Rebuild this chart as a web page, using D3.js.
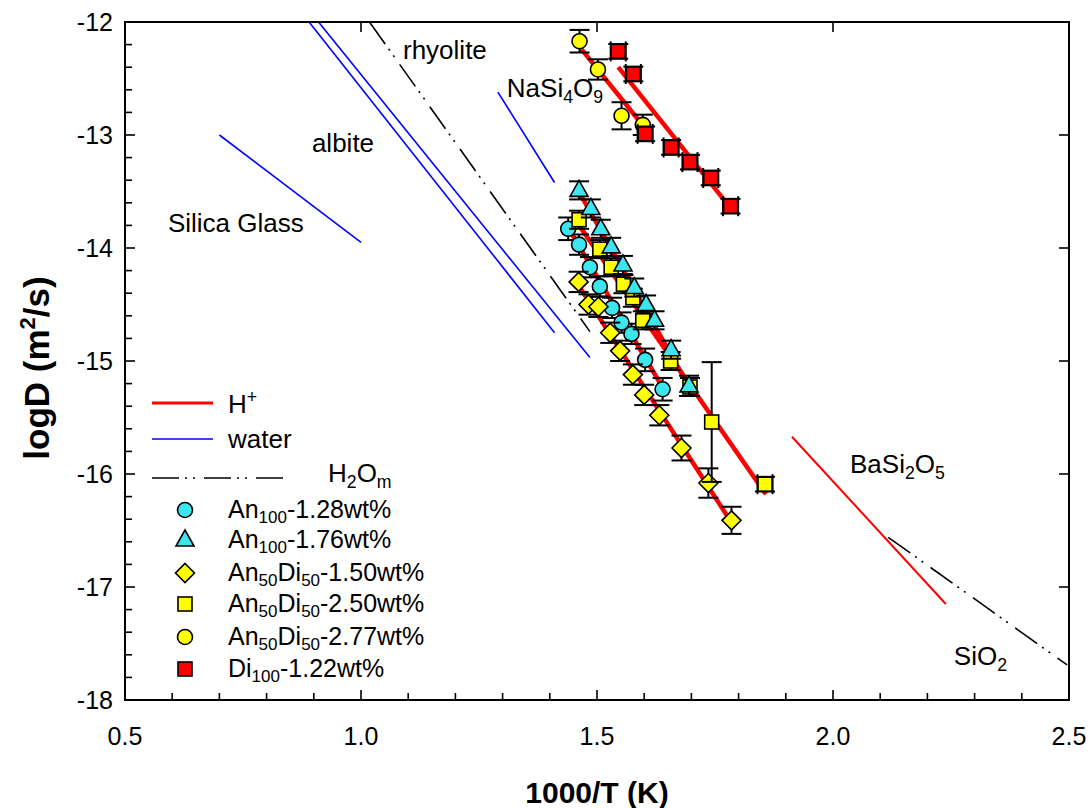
<!DOCTYPE html>
<html>
<head>
<meta charset="utf-8">
<script src="https://cdn.jsdelivr.net/npm/d3@7"></script>
<style>
body { margin: 0; background: #fff; }
svg { display: block; }
</style>
</head>
<body>
<div id="chart"></div>
<script>
// tick values
const xTicks = [0.5, 1.0, 1.5, 2.0, 2.5];
const yTicks = [-12, -13, -14, -15, -16, -17, -18];

// An100-1.28wt%  (cyan circles)
const an100a_x = [1.439, 1.462, 1.485, 1.506, 1.532, 1.552, 1.573, 1.602, 1.639];
const an100a_y = [-13.83, -13.97, -14.17, -14.34, -14.53, -14.66, -14.76, -14.99, -15.25];
const an100a_e = [0.10, 0.09, 0.09, 0.09, 0.09, 0.09, 0.09, 0.10, 0.10];

// An100-1.76wt%  (cyan triangles)
const an100b_x = [1.462, 1.487, 1.508, 1.530, 1.555, 1.579, 1.604, 1.622, 1.657, 1.695];
const an100b_y = [-13.49, -13.65, -13.83, -13.99, -14.15, -14.35, -14.50, -14.64, -14.90, -15.22];
const an100b_e = [0.08, 0.08, 0.08, 0.08, 0.08, 0.08, 0.08, 0.08, 0.08, 0.09];

// An50Di50-1.50wt%  (yellow diamonds)
const an50a_x = [1.461, 1.482, 1.503, 1.528, 1.549, 1.576, 1.600, 1.632, 1.679, 1.736, 1.785];
const an50a_y = [-14.30, -14.50, -14.52, -14.75, -14.91, -15.12, -15.30, -15.48, -15.77, -16.08, -16.41];
const an50a_e = [0.09, 0.09, 0.09, 0.09, 0.09, 0.09, 0.09, 0.09, 0.11, 0.13, 0.12];

// An50Di50-2.50wt%  (yellow squares)
const an50b_x = [1.462, 1.506, 1.530, 1.556, 1.576, 1.597, 1.656, 1.697, 1.743, 1.856];
const an50b_y = [-13.75, -14.01, -14.17, -14.32, -14.44, -14.64, -15.00, -15.23, -15.54, -16.09];
const an50b_e = [0.08, 0.08, 0.08, 0.08, 0.08, 0.08, 0.08, 0.08, 0.53, 0.065];
const an50b_ex = [0, 0, 0, 0, 0, 0, 0, 0, 0, 0.016];

// An50Di50-2.77wt%  (yellow circles)
const an50c_x = [1.463, 1.502, 1.552, 1.597];
const an50c_y = [-12.17, -12.42, -12.83, -12.91];
const an50c_e = [0.10, 0.09, 0.12, 0.09];

// Di100-1.22wt%  (red squares)
const di100_x = [1.545, 1.577, 1.602, 1.657, 1.697, 1.741, 1.783];
const di100_y = [-12.26, -12.46, -12.99, -13.11, -13.24, -13.38, -13.63];
const di100_e = [0.065, 0.065, 0.065, 0.065, 0.065, 0.065, 0.065];
const di100_ex = [0.016, 0.016, 0.016, 0.016, 0.016, 0.016, 0.016];

// H+ fits (thick red)
const fitLines = [
  [[1.467, -12.24], [1.602, -12.94]],
  [[1.545, -12.40], [1.778, -13.62]],
  [[1.460, -13.49], [1.705, -15.30]],
  [[1.462, -13.80], [1.858, -16.18]],
  [[1.432, -13.77], [1.644, -15.27]],
  [[1.453, -14.28], [1.788, -16.45]]
];
// literature lines
const basi2o5 = [[1.913, -15.67], [2.239, -17.15]];
const waterLines = [
  [[0.70, -13.00], [1.00, -13.95]],
  [[0.89, -12.00], [1.41, -14.75]],
  [[0.91, -12.00], [1.485, -14.97]],
  [[1.29, -12.62], [1.41, -13.42]]
];
const h2omLines = [
  [[1.018, -12.00], [1.485, -14.74]],
  [[2.117, -16.56], [2.496, -17.69]]
];

// text labels in data coordinates
const labels = [
  { x: 1.089, y: -12.33, parts: ["rhyolite"] },
  { x: 1.309, y: -12.66, parts: ["NaSi", ["4", "sub"], "O", ["9", "sub"]] },
  { x: 0.896, y: -13.15, parts: ["albite"] },
  { x: 0.591, y: -13.86, parts: ["Silica Glass"] },
  { x: 2.036, y: -15.99, parts: ["BaSi", ["2", "sub"], "O", ["5", "sub"]] },
  { x: 2.256, y: -17.69, parts: ["SiO", ["2", "sub"]] }
];

const W = 1091, H = 808;
const margin = { left: 125, right: 22, top: 22, bottom: 108 };
const font = "'Liberation Sans', Arial, Helvetica, sans-serif";
const fs = 26;

const x = d3.scaleLinear().domain([0.5, 2.5]).range([margin.left, W - margin.right]);
const y = d3.scaleLinear().domain([-18, -12]).range([H - margin.bottom, margin.top]);

const svg = d3.select("#chart").append("svg")
  .attr("width", W).attr("height", H)
  .attr("font-family", font);

svg.append("defs").append("clipPath").attr("id", "clip")
  .append("rect")
  .attr("x", margin.left).attr("y", margin.top)
  .attr("width", W - margin.left - margin.right)
  .attr("height", H - margin.top - margin.bottom);

function rich(g, px, py, parts, size, subDy = 6) {
  const t = g.append("text").attr("x", px).attr("y", py).attr("font-size", size);
  let shift = 0;
  parts.forEach(p => {
    const [s, kind] = typeof p === "string" ? [p, ""] : p;
    const target = kind === "sub" ? subDy : kind === "sup" ? -10 : 0;
    t.append("tspan")
      .attr("dy", target - shift)
      .attr("font-size", kind ? size * 0.68 : size)
      .text(s);
    shift = target;
  });
  return t;
}

const line = d3.line().x(d => x(d[0])).y(d => y(d[1]));
const plot = svg.append("g").attr("clip-path", "url(#clip)");
const dashPat = "27,6,2,6,2,9";

plot.selectAll(".water").data(waterLines).join("path")
  .attr("d", line).attr("fill", "none")
  .attr("stroke", "#0000ff").attr("stroke-width", 1.6);

plot.selectAll(".h2om").data(h2omLines).join("path")
  .attr("d", line).attr("fill", "none")
  .attr("stroke", "#000").attr("stroke-width", 1.6)
  .attr("stroke-dasharray", dashPat);

plot.append("path").attr("d", line(basi2o5)).attr("fill", "none")
  .attr("stroke", "#ff0000").attr("stroke-width", 2);

plot.selectAll(".fit").data(fitLines).join("path")
  .attr("d", line).attr("fill", "none")
  .attr("stroke", "#ff0000").attr("stroke-width", 4.5);

// marker shapes
function shape(g, kind, fill) {
  let el;
  if (kind === "circle") el = g.append("circle").attr("r", 7.5);
  else if (kind === "square") el = g.append("rect").attr("x", -7).attr("y", -7).attr("width", 14).attr("height", 14);
  else if (kind === "triangle") el = g.append("path").attr("d", "M0,-10L9,6L-9,6Z");
  else el = g.append("path").attr("d", "M0,-9.5L9.5,0L0,9.5L-9.5,0Z");
  el.attr("fill", fill).attr("stroke", "#000").attr("stroke-width", 1.6);
}

const series = [
  { xs: an100a_x, ys: an100a_y, es: an100a_e, kind: "circle", fill: "#3ce6ee" },
  { xs: an50a_x, ys: an50a_y, es: an50a_e, kind: "diamond", fill: "#ffff00" },
  { xs: an50b_x, ys: an50b_y, es: an50b_e, ex: an50b_ex, kind: "square", fill: "#ffff00" },
  { xs: an100b_x, ys: an100b_y, es: an100b_e, kind: "triangle", fill: "#3ce6ee" },
  { xs: an50c_x, ys: an50c_y, es: an50c_e, kind: "circle", fill: "#ffff00" },
  { xs: di100_x, ys: di100_y, es: di100_e, ex: di100_ex, kind: "square", fill: "#ff0000" }
];

const cap = 10;
series.forEach(s => {
  const pts = s.xs.map((v, i) => ({ x: v, y: s.ys[i], e: s.es[i], ex: s.ex ? s.ex[i] : 0 }));
  const eb = svg.append("g").attr("stroke", "#000").attr("stroke-width", 2);
  pts.forEach(p => {
    const cx = x(p.x), top = y(p.y + p.e), bot = y(p.y - p.e);
    eb.append("line").attr("x1", cx).attr("x2", cx).attr("y1", top).attr("y2", bot);
    eb.append("line").attr("x1", cx - cap).attr("x2", cx + cap).attr("y1", top).attr("y2", top);
    eb.append("line").attr("x1", cx - cap).attr("x2", cx + cap).attr("y1", bot).attr("y2", bot);
    if (p.ex) {
      const l = x(p.x - p.ex), r = x(p.x + p.ex), cy = y(p.y);
      eb.append("line").attr("x1", l).attr("x2", r).attr("y1", cy).attr("y2", cy);
      eb.append("line").attr("x1", l).attr("x2", l).attr("y1", cy - cap).attr("y2", cy + cap);
      eb.append("line").attr("x1", r).attr("x2", r).attr("y1", cy - cap).attr("y2", cy + cap);
    }
  });
  pts.forEach(p => {
    const g = svg.append("g").attr("transform", `translate(${x(p.x)},${y(p.y)})`);
    shape(g, s.kind, s.fill);
  });
});

// annotations
const ann = svg.append("g").attr("fill", "#000");
labels.forEach(l => rich(ann, x(l.x), y(l.y), l.parts, fs));

// frame and ticks
const x0 = margin.left, x1 = W - margin.right, y0 = margin.top, y1 = H - margin.bottom;
svg.append("rect").attr("x", x0).attr("y", y0).attr("width", x1 - x0).attr("height", y1 - y0)
  .attr("fill", "none").attr("stroke", "#000").attr("stroke-width", 2);

const tk = svg.append("g").attr("stroke", "#000").attr("stroke-width", 1.6);
const xMinor = d3.range(0.6, 2.5, 0.1).filter(v => Math.abs(v * 2 - Math.round(v * 2)) > 0.01);
const yMinor = d3.range(-17.8, -12, 0.2).filter(v => Math.abs(v - Math.round(v)) > 0.01);

xTicks.forEach(v => {
  tk.append("line").attr("x1", x(v)).attr("x2", x(v)).attr("y1", y1).attr("y2", y1 - 10);
  tk.append("line").attr("x1", x(v)).attr("x2", x(v)).attr("y1", y0).attr("y2", y0 + 10);
});
xMinor.forEach(v => tk.append("line").attr("x1", x(v)).attr("x2", x(v)).attr("y1", y1).attr("y2", y1 - 7));
yTicks.forEach(v => {
  tk.append("line").attr("x1", x0).attr("x2", x0 + 10).attr("y1", y(v)).attr("y2", y(v));
  tk.append("line").attr("x1", x1).attr("x2", x1 - 10).attr("y1", y(v)).attr("y2", y(v));
});
yMinor.forEach(v => tk.append("line").attr("x1", x0).attr("x2", x0 + 7).attr("y1", y(v)).attr("y2", y(v)));

svg.append("g").selectAll("text").data(xTicks).join("text")
  .attr("x", d => x(d)).attr("y", y1 + 45)
  .attr("text-anchor", "middle").attr("font-size", 25)
  .text(d => d.toFixed(1));
svg.append("g").selectAll("text").data(yTicks).join("text")
  .attr("x", x0 - 12).attr("y", d => y(d) + 9)
  .attr("text-anchor", "end").attr("font-size", 25)
  .text(d => d);

// axis titles
svg.append("text").attr("x", (x0 + x1) / 2).attr("y", 803)
  .attr("text-anchor", "middle").attr("font-size", 30).attr("font-weight", "bold")
  .text("1000/T (K)");
const yt = svg.append("text").attr("transform", `translate(49,368) rotate(-90)`)
  .attr("text-anchor", "middle").attr("font-size", 35).attr("font-weight", "bold");
yt.append("tspan").text("logD (m");
yt.append("tspan").attr("font-size", 22).attr("dy", -14).text("2");
yt.append("tspan").attr("dy", 14).text("/s)");

// legend
const lg = svg.append("g");
const lineRows = [
  { y: 403, color: "#ff0000", w: 3, len: 61, dash: null, tx: 228, dy: 10, parts: ["H", ["+", "sup"]] },
  { y: 439, color: "#0000ff", w: 1.6, len: 61, dash: null, tx: 228, dy: 9, parts: ["water"] },
  { y: 478, color: "#000", w: 1.6, len: 133, dash: dashPat, tx: 328, dy: 4, parts: ["H", ["2", "sub"], "O", ["m", "sub"]] }
];
lineRows.forEach(r => {
  lg.append("line").attr("x1", 152).attr("x2", 152 + r.len).attr("y1", r.y).attr("y2", r.y)
    .attr("stroke", r.color).attr("stroke-width", r.w).attr("stroke-dasharray", r.dash);
  rich(lg, r.tx, r.y + r.dy, r.parts, fs);
});
const symRows = [
  { y: 510, kind: "circle", fill: "#3ce6ee", parts: ["An", ["100", "sub"], "-1.28wt%"] },
  { y: 540, kind: "triangle", fill: "#3ce6ee", parts: ["An", ["100", "sub"], "-1.76wt%"] },
  { y: 573, kind: "diamond", fill: "#ffff00", parts: ["An", ["50", "sub"], "Di", ["50", "sub"], "-1.50wt%"] },
  { y: 604, kind: "square", fill: "#ffff00", parts: ["An", ["50", "sub"], "Di", ["50", "sub"], "-2.50wt%"] },
  { y: 637, kind: "circle", fill: "#ffff00", parts: ["An", ["50", "sub"], "Di", ["50", "sub"], "-2.77wt%"] },
  { y: 669, kind: "square", fill: "#ff0000", parts: ["Di", ["100", "sub"], "-1.22wt%"] }
];
symRows.forEach(r => {
  const g = lg.append("g").attr("transform", `translate(185,${r.y})`);
  shape(g, r.kind, r.fill);
  rich(lg, 228, r.y + 8, r.parts, 25, 5);
});
</script>
</body>
</html>
